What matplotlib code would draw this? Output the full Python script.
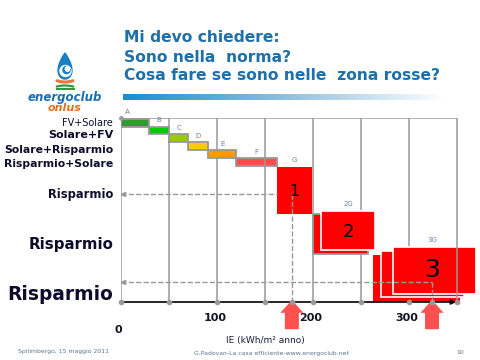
import numpy as np
import matplotlib
matplotlib.use("Agg")
import matplotlib.pyplot as plt
from matplotlib.colors import LinearSegmentedColormap

# energy classes: name, IE start/end (kWh/m2 anno), row top/bottom, colour
classes = ["A", "B", "C", "D", "E", "F", "G"]
cls_start = [0, 29, 50, 70, 91, 120, 162]
cls_end = [29, 50, 70, 91, 120, 162, 199]
cls_top = [0.1, 1.1, 2.0, 3.0, 4.0, 5.0, 6.1]
cls_bot = [1.1, 2.0, 3.0, 4.0, 5.0, 6.0, 12.0]
cls_col = ["#339933", "#00cc00", "#99cc00", "#ffcc00", "#ff9900", "#ff4d4d", "#ff0000"]

# 2G and 3G boxes (back to front)
g2_start = [200, 208]
g2_end = [257, 265]
g2_top = [12.0, 11.6]
g2_bot = [17.0, 16.5]
g3_start = [263, 271, 283]
g3_end = [353, 357, 370]
g3_top = [17.1, 16.6, 16.1]
g3_bot = [23.0, 22.4, 22.0]

grid_x = [0, 50, 100, 150, 200, 250, 300, 350]
tick_vals = [0, 100, 200, 300]
marks = [178, 324]          # the two houses on the IE axis
mark_rows = [9.5, 20.5]

ylabels = ["FV+Solare", "Solare+FV", "Solare+Risparmio", "Risparmio+Solare",
           "Risparmio", "Risparmio", "Risparmio"]
ylabel_rows = [0.6, 2.1, 4.0, 5.75, 9.6, 15.75, 22.0]
ylabel_size = [7, 8, 7.8, 7.8, 8.3, 10.8, 13.4]
ylabel_weight = ["normal", "bold", "bold", "bold", "bold", "bold", "bold"]

fig = plt.figure(figsize=(4.8, 3.6), dpi=100)
ax = fig.add_axes([121 / 480, 58 / 360, 355.2 / 480, 184 / 360])
ax.set_xlim(0, 370)
ax.set_ylim(23, 0)
ax.axis("off")

grey = "#999999"
# grid
for gx in grid_x:
    z = 3 if gx in (150, 350) else 1
    ax.vlines(gx, 0, 23, color=grey, lw=1.1, zorder=z)
ax.hlines(0, 0, 350, color=grey, lw=1.1, zorder=1)

# classes
for i, c in enumerate(classes):
    ec = grey if c != "G" else "none"
    ax.bar(cls_start[i], cls_bot[i] - cls_top[i], width=cls_end[i] - cls_start[i],
           bottom=cls_top[i], align="edge", color=cls_col[i], edgecolor=ec,
           lw=1.3, zorder=2)
    ax.text((cls_start[i] + cls_end[i]) / 2 + (-8 if c == "A" else 0),
            cls_top[i] - 0.8, c, fontsize=5, color="#6b7fae", ha="center",
            va="center")
ax.text((cls_start[6] + cls_end[6]) / 2, 9.2, "1", fontsize=11.5,
        ha="center", va="center", zorder=5)

# 2G
ax.bar(g2_start[0], g2_bot[0] - g2_top[0], width=g2_end[0] - g2_start[0],
       bottom=g2_top[0], align="edge", color="#ff0000", edgecolor=grey, lw=1.3, zorder=2)
ax.bar(g2_start[1], g2_bot[1] - g2_top[1], width=g2_end[1] - g2_start[1],
       bottom=g2_top[1], align="edge", color="#ff0000", edgecolor="white", lw=1.2, zorder=2)
ax.text((g2_start[1] + g2_end[1]) / 2, g2_top[1] - 0.8, "2G", fontsize=5,
        color="#6b7fae", ha="center", va="center")
ax.text((g2_start[1] + g2_end[1]) / 2, 14.2, "2", fontsize=13, ha="center",
        va="center", zorder=5)

# 3G
for i in range(3):
    ec = "none" if i == 0 else "white"
    ax.bar(g3_start[i], g3_bot[i] - g3_top[i], width=g3_end[i] - g3_start[i],
           bottom=g3_top[i], align="edge", color="#ff0000", edgecolor=ec,
           lw=1.2, zorder=2, clip_on=False)
ax.text(324, g3_top[2] - 0.8, "3G", fontsize=5, color="#6b7fae",
        ha="center", va="center")
ax.text(324, 19.0, "3", fontsize=18, ha="center", va="center", zorder=5)

# dashed guides
for mx, my, gx_end in zip(marks, mark_rows, [162, 324]):
    ax.plot([0, gx_end], [my, my], ls="--", color=grey, lw=1, zorder=4)
    ax.plot([mx, mx], [my, 23], ls="--", color=grey, lw=1, zorder=4)
    ax.plot([2], [my], marker="<", ms=3, color=grey, zorder=4)

# IE axis
ax.annotate("", xy=(352, 23), xytext=(0, 23),
            arrowprops=dict(arrowstyle="-|>", color="black", lw=1.2,
                            mutation_scale=7), annotation_clip=False, zorder=6)
ax.plot(grid_x + marks, [23] * (len(grid_x) + len(marks)), "o", ms=3,
        color=grey, zorder=7, clip_on=False)
ax.plot([0], [0], "o", ms=2.5, color=grey, zorder=7, clip_on=False)

for mx in marks:
    ax.arrow(mx, 26.4, 0, -3.65, width=14.6, head_width=24, head_length=1.6,
             length_includes_head=True, color="#ff5050", lw=0, clip_on=False,
             zorder=6)

for v in tick_vals:
    if v == 0:
        ax.text(-3, 26.5, "0", fontsize=8, fontweight="bold", ha="center",
                va="center", color="#111122")
    else:
        ax.text(v - 2, 25.0, str(v), fontsize=8, fontweight="bold",
                ha="center", va="center", color="#111122")
ax.text(150, 27.75, "IE (kWh/m\u00b2 anno)", fontsize=6.5, ha="center",
        va="center", color="#1a1a3a")

for lab, r, s, w in zip(ylabels, ylabel_rows, ylabel_size, ylabel_weight):
    ax.text(-8.3, r, lab, fontsize=s, fontweight=w, ha="right", va="center",
            color="#0d0d2b")

# title
title_col = "#1f6fa8"
for i, line in enumerate(["Mi devo chiedere:", "Sono nella  norma?",
                          "Cosa fare se sono nelle  zona rosse?"]):
    fig.text(124 / 480, 1 - (38 + 19 * i) / 360, line, fontsize=11.2,
             fontweight="bold", color=title_col, va="center", ha="left")

# gradient bar under title
gax = fig.add_axes([123 / 480, 1 - 100 / 360, 322 / 480, 6 / 360])
cmap = LinearSegmentedColormap.from_list("g", ["#1890c8", "#8fbfdf", "#ffffff"])
gax.imshow(np.linspace(0, 1, 256)[None, :], aspect="auto", cmap=cmap)
gax.axis("off")

# logo: drop with swirl, orange and green strokes
lax = fig.add_axes([45 / 480, 1 - 90 / 360, 40 / 480, 40 / 360])
lax.set_xlim(-20, 20)
lax.set_ylim(-40, 0)
lax.axis("off")
t = np.linspace(0, 2 * np.pi, 200)
lax.fill(9 * np.sin(t) * np.sin(t / 2), -16 + 13 * np.cos(t), color="#1a7fc1")
lax.fill(5.5 * np.cos(t) + 0.5, -21 + 5.5 * np.sin(t), color="white")
lax.fill(3.6 * np.cos(t) + 1.5, -20 + 3.6 * np.sin(t), color="#1a7fc1")
lax.fill(2.2 * np.cos(t) + 2.5, -19 + 2.2 * np.sin(t), color="white")
xs = np.linspace(-8, 8, 50)
lax.plot(xs, -32 + 0.02 * xs ** 2, color="#e8783a", lw=2.2, solid_capstyle="round")
lax.plot(xs, -35.5 - 0.015 * xs ** 2, color="#2e9a3e", lw=1.6)
lax.plot([-8, 8], [-38.5, -38.5], color="#2e9a3e", lw=2.2)
fig.text(65 / 480, 1 - 97 / 360, "energoclub", fontsize=8.5, fontweight="bold",
         style="italic", color="#1a6fb0", ha="center", va="center")
fig.text(65 / 480, 1 - 108 / 360, "onlus", fontsize=8, fontweight="bold",
         style="italic", color="#e07020", ha="center", va="center")

# footer
foot = "#5b7290"
fig.text(18 / 480, 1 - 352 / 360, "Spilimbergo, 15 maggio 2011", fontsize=4.4,
         color=foot, va="center")
fig.text(272 / 480, 1 - 353 / 360, "G.Padovan-La casa efficiente-www.energoclub.net",
         fontsize=4.4, color=foot, ha="center", va="center")
fig.text(460 / 480, 1 - 353 / 360, "10", fontsize=4.4, color=foot,
         ha="center", va="center")

fig.savefig("out.png", dpi=100)
